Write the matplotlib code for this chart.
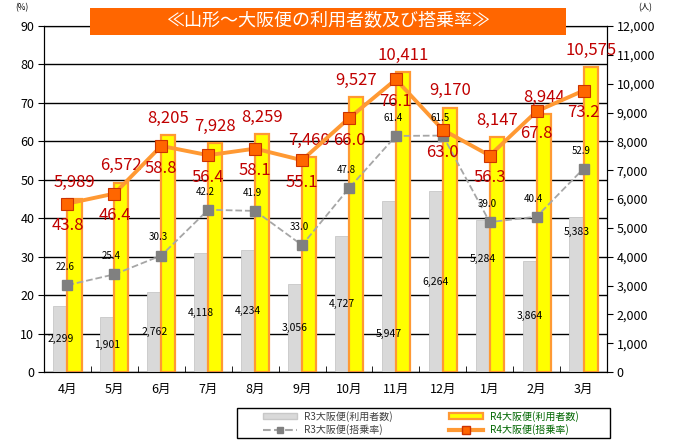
import numpy as np
import matplotlib
matplotlib.use('Agg')
import matplotlib.pyplot as plt
from matplotlib.patches import Rectangle, Patch
from matplotlib.lines import Line2D

plt.rcParams['font.family'] = ['Noto Sans CJK JP', 'DejaVu Sans']

# data
months = ['4月', '5月', '6月', '7月', '8月', '9月', '10月', '11月', '12月', '1月', '2月', '3月']
r3_users = [2299, 1901, 2762, 4118, 4234, 3056, 4727, 5947, 6264, 5284, 3864, 5383]
r4_users = [5989, 6572, 8205, 7928, 8259, 7460, 9527, 10411, 9170, 8147, 8944, 10575]
r3_rate = [22.6, 25.4, 30.3, 42.2, 41.9, 33.0, 47.8, 61.4, 61.5, 39.0, 40.4, 52.9]
r4_rate = [43.8, 46.4, 58.8, 56.4, 58.1, 55.1, 66.0, 76.1, 63.0, 56.3, 67.8, 73.2]

# where the R3 user label sits inside its bar (fraction of bar height)
r3_label_frac = [0.5, 0.5, 0.5, 0.5, 0.5, 0.5, 0.5, 0.22, 0.5, 0.74, 0.5, 0.9]

RED = '#C00000'
x = np.arange(len(months))
w = 0.3

fig = plt.figure(figsize=(6.82, 4.43), dpi=100)
ax = fig.add_axes([44/682, 1-372/443, 563/682, 346/443])
axb = ax.twinx()
axl = ax.twinx()
ax.set_zorder(1)
axb.set_zorder(2)
axl.set_zorder(3)
axb.patch.set_visible(False)
axl.patch.set_visible(False)

# left axis (%), gridlines
ax.set_xlim(-0.5, len(months) - 0.5)
ax.set_ylim(0, 90)
ax.set_yticks(range(0, 91, 10))
ax.yaxis.grid(True, color='#000000', linewidth=1)
ax.set_axisbelow(True)
ax.tick_params(axis='y', labelsize=9, length=4, direction='out', pad=3)
ax.set_xticks(x)
ax.set_xticklabels(months, fontsize=9)
ax.set_xticks(np.arange(-0.5, len(months), 1), minor=True)
ax.tick_params(axis='x', which='major', length=0, pad=8)
ax.tick_params(axis='x', which='minor', length=4, direction='in')
for s in ax.spines.values():
    s.set_color('black')

# bars on the right axis
axb.bar(x - w, r3_users, width=w, align='edge', color='#D9D9D9', edgecolor='#C8C8C8', linewidth=0.6)
axb.bar(x, r4_users, width=w, align='edge', color='#FFFF00', edgecolor='#FF9933', linewidth=1.6)
axb.set_ylim(0, 12000)
axb.set_yticks(range(0, 12001, 1000))
axb.set_yticklabels([f'{v:,}' for v in range(0, 12001, 1000)], fontsize=9)
axb.tick_params(axis='y', length=4, direction='out', pad=3)
axb.set_xlim(-0.5, len(months) - 0.5)

# lines on top
axl.set_ylim(0, 90)
axl.set_xlim(-0.5, len(months) - 0.5)
axl.set_yticks([])
for s in axl.spines.values():
    s.set_visible(False)
axl.plot(x, r3_rate, color='#A6A6A6', linestyle='--', linewidth=1.3, marker='s',
         markersize=7, markerfacecolor='#808080', markeredgecolor='#808080')
axl.plot(x, r4_rate, color='#FF9933', linewidth=2.8, marker='s', markersize=8,
         markerfacecolor='#FF6600', markeredgecolor='#CC3300', markeredgewidth=0.8)

# labels
for i in range(len(months)):
    axb.annotate(f'{r4_users[i]:,}', (x[i] + w/2, r4_users[i]), xytext=(0, 12),
                 textcoords='offset points', ha='center', va='center', fontsize=12, color=RED)
    axl.annotate(f'{r4_rate[i]:.1f}', (x[i], r4_rate[i]), xytext=(0, -16),
                 textcoords='offset points', ha='center', va='center', fontsize=12, color=RED)
    axl.annotate(f'{r3_rate[i]:.1f}', (x[i], r3_rate[i]), xytext=(-2, 13),
                 textcoords='offset points', ha='center', va='center', fontsize=7, color='black')
    axb.text(x[i] - w/2, r3_users[i] * r3_label_frac[i], f'{r3_users[i]:,}',
             ha='center', va='center', fontsize=7.5, color='black')

# units
fig.text(22/682, 1-8/443, '(%)', fontsize=6, ha='center', va='center')
fig.text(645/682, 1-8/443, '(人)', fontsize=6, ha='center', va='center')

# title box
fig.add_artist(Rectangle((90/682, 1-35/443), 476/682, 27/443, transform=fig.transFigure,
                         facecolor='#FF6600', edgecolor='none', zorder=5))
fig.text(328/682, 1-21/443, '≪山形～大阪便の利用者数及び搭乗率≫', fontsize=13,
         color='white', ha='center', va='center', zorder=6)

# legend: frame plus two columns
fig.add_artist(Rectangle((237/682, 1-438/443), 373/682, 30/443, transform=fig.transFigure,
                         facecolor='white', edgecolor='black', linewidth=1, zorder=4))
h_r3 = [Patch(facecolor='#D9D9D9', edgecolor='#C8C8C8'),
        Line2D([], [], color='#A6A6A6', linestyle='--', marker='s', markersize=5,
               markerfacecolor='#808080', markeredgecolor='#808080')]
h_r4 = [Patch(facecolor='#FFFF00', edgecolor='#FF9933', linewidth=1.6),
        Line2D([], [], color='#FF9933', linewidth=3, marker='s', markersize=6,
               markerfacecolor='#FF6600', markeredgecolor='#CC3300')]
for hs, names, left, col in [(h_r3, ['R3大阪便(利用者数)', 'R3大阪便(搭乗率)'], 263, '#404040'),
                             (h_r4, ['R4大阪便(利用者数)', 'R4大阪便(搭乗率)'], 449, '#006600')]:
    lg = fig.legend(hs, names, loc='center left', bbox_to_anchor=(left/682, 1-423/443),
                    fontsize=7.2, frameon=False, borderpad=0, borderaxespad=0,
                    handlelength=3.4, handleheight=0.5, handletextpad=0.7, labelspacing=0.3)
    lg.set_zorder(6)
    for t in lg.get_texts():
        t.set_color(col)

fig.savefig('out.png', dpi=100)
